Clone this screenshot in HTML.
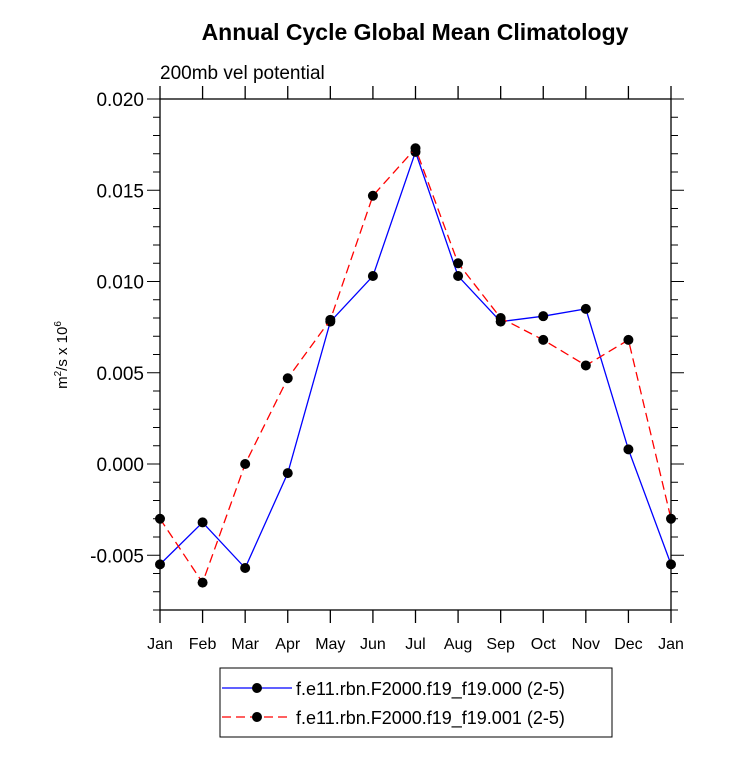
<!DOCTYPE html>
<html><head><meta charset="utf-8"><style>
html,body{margin:0;padding:0;background:#fff}
svg{display:block;font-family:"Liberation Sans",Arial,sans-serif}
</style></head><body>
<svg id="chart" width="733" height="758" viewBox="0 0 733 758" xmlns="http://www.w3.org/2000/svg">
<text x="415" y="40" text-anchor="middle" font-size="23" font-weight="bold">Annual Cycle Global Mean Climatology</text>
<text x="160" y="79" font-size="19">200mb vel potential</text>
<text transform="translate(67,355) rotate(-90)" text-anchor="middle" font-size="15">m<tspan font-size="10" dy="-6">2</tspan><tspan dy="6">/s x 10</tspan><tspan font-size="10" dy="-6">6</tspan></text>
<g id="axes"></g>
<g id="series"></g>
<g>
<rect x="220" y="668" width="392" height="69" fill="#fff" stroke="#000" stroke-width="1"/>
<line x1="222" y1="688" x2="292" y2="688" stroke="#0000ff" stroke-width="1.3"/>
<circle cx="257" cy="688" r="5" fill="#000"/>
<text x="296" y="695" font-size="18">f.e11.rbn.F2000.f19_f19.000 (2-5)</text>
<line x1="222" y1="717" x2="292" y2="717" stroke="#ff0000" stroke-width="1.3" stroke-dasharray="9,5"/>
<circle cx="257" cy="717" r="5" fill="#000"/>
<text x="296" y="724" font-size="18">f.e11.rbn.F2000.f19_f19.001 (2-5)</text>
</g>
</svg>
<script>
const months=["Jan","Feb","Mar","Apr","May","Jun","Jul","Aug","Sep","Oct","Nov","Dec","Jan"];
const series000=[-0.0055,-0.0032,-0.0057,-0.0005,0.0078,0.0103,0.0171,0.0103,0.0078,0.0081,0.0085,0.0008,-0.0055];
const series001=[-0.0030,-0.0065,0.0000,0.0047,0.0079,0.0147,0.0173,0.0110,0.0080,0.0068,0.0054,0.0068,-0.0030];
const yTicks=[-0.005,0.000,0.005,0.010,0.015,0.020];
const yTickLabels=["-0.005","0.000","0.005","0.010","0.015","0.020"];
const L=160,R=671,T=99,B=610,ymin=-0.008,ymax=0.020;
const xs=i=>L+(R-L)*i/(months.length-1);
const ys=v=>B-(v-ymin)/(ymax-ymin)*(B-T);
const NS="http://www.w3.org/2000/svg";
function mk(tag,parent,at){const e=document.createElementNS(NS,tag);for(const k in at)e.setAttribute(k,at[k]);parent.appendChild(e);return e;}
const ax=document.getElementById('axes');
const frame=mk('rect',ax,{x:L,y:T,width:R-L,height:B-T,fill:'none',stroke:'#000','stroke-width':1.3});


months.forEach((m,i)=>{
  const x=xs(i);
  mk('line',ax,{x1:x,y1:B,x2:x,y2:B+13,stroke:'#000','stroke-width':1.3});
  mk('line',ax,{x1:x,y1:T,x2:x,y2:T-13,stroke:'#000','stroke-width':1.3});
  const t=mk('text',ax,{x:x,y:B+39,'text-anchor':'middle','font-size':16});
  t.textContent=m;
  
  
});
for(let k=-8;k<=20;k++){
  const v=k/1000,y=ys(v);
  const major=(k%5===0);
  const len=major?13:7;
  mk('line',ax,{x1:L,y1:y,x2:L-len,y2:y,stroke:'#000','stroke-width':1});
  mk('line',ax,{x1:R,y1:y,x2:R+len,y2:y,stroke:'#000','stroke-width':1});
}
yTicks.forEach((v,i)=>{
  const t=mk('text',ax,{x:L-16,y:ys(v)+7,'text-anchor':'end','font-size':19});
  t.textContent=yTickLabels[i];
  
  
});
const sg=document.getElementById('series');
function draw(data,color,dash,name){
  const p=mk('polyline',sg,{points:data.map((v,i)=>xs(i)+','+ys(v)).join(' '),fill:'none',stroke:color,'stroke-width':1.3});
  if(dash)p.setAttribute('stroke-dasharray',dash);
  
  
  data.forEach((v,i)=>{
    const c=mk('circle',sg,{cx:xs(i),cy:ys(v),r:5,fill:'#000'});
    
    
  });
}
draw(series000,'#0000ff',null,'series-000');
draw(series001,'#ff0000','9,5','series-001');
</script>
</body></html>
